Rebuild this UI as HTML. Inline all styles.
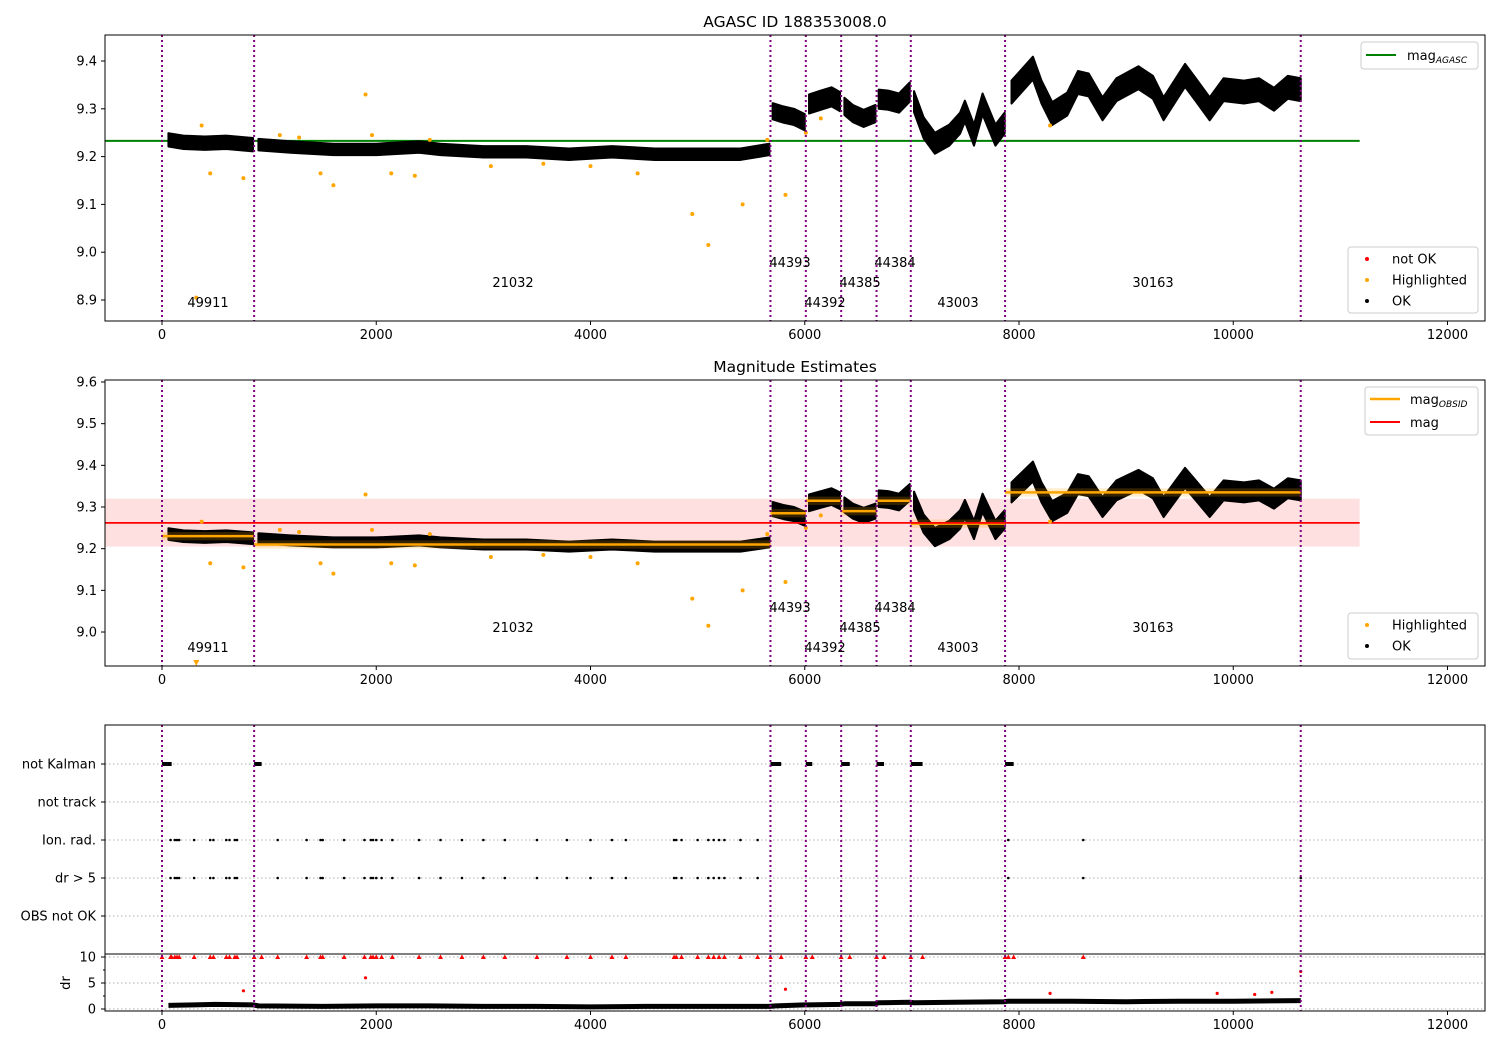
<!DOCTYPE html>
<html><head><meta charset="utf-8"><style>
body{margin:0;background:#fff}
svg{display:block;font-family:"DejaVu Sans","Liberation Sans",sans-serif}
</style></head><body>
<svg id="fig" width="1500" height="1050" viewBox="0 0 1500 1050">
<rect width="1500" height="1050" fill="#fff"/>
</svg>
<script>
// ---- data ----
const obsStarts = [0, 860, 5680, 6010, 6340, 6670, 6990, 7870, 10630];
const obsIds = ["49911","21032","44393","44392","44385","44384","43003","30163"];
const obsMeans = [9.23, 9.21, 9.285, 9.315, 9.29, 9.315, 9.26, 9.335];
const okSegX = [
 [60,200,400,600,850],
 [900,1200,1600,2000,2400,2600,3000,3400,3800,4200,4600,5000,5400,5670],
 [5700,5800,5900,6000],
 [6040,6150,6250,6330],
 [6370,6450,6550,6660],
 [6690,6780,6880,6980],
 [7020,7110,7215,7350,7450,7495,7580,7660,7780,7866],
 [7930,8130,8210,8310,8450,8550,8650,8780,8910,9115,9250,9350,9550,9650,9780,9910,10100,10240,10380,10510,10630]
];
const okSegY = [
 [9.235,9.23,9.228,9.23,9.225],
 [9.225,9.22,9.215,9.215,9.22,9.215,9.21,9.21,9.205,9.21,9.205,9.205,9.205,9.215],
 [9.295,9.288,9.283,9.272],
 [9.31,9.318,9.325,9.315],
 [9.305,9.29,9.28,9.29],
 [9.32,9.318,9.312,9.335],
 [9.315,9.26,9.228,9.245,9.27,9.295,9.245,9.31,9.245,9.27],
 [9.335,9.385,9.335,9.29,9.31,9.355,9.35,9.30,9.34,9.365,9.345,9.30,9.37,9.34,9.30,9.34,9.335,9.34,9.32,9.345,9.34]
];
const okSegSpread = [0.014, 0.012, 0.017, 0.02, 0.018, 0.02, 0.022, 0.024];
const hlX = [370,450,760,1100,1280,1480,1600,1900,1960,2140,2360,2500,3070,3560,4000,4440,4950,5100,5420,5650,5820,6010,6150,8290];
const hlY = [9.265,9.165,9.155,9.245,9.24,9.165,9.14,9.33,9.245,9.165,9.16,9.235,9.18,9.185,9.18,9.165,9.08,9.015,9.1,9.235,9.12,9.25,9.28,9.265];
const hlLowX = [320];
const hlLowY = [8.905];
const magAgasc = 9.233;
const magMean = 9.262;
const magLo = 9.205;
const magHi = 9.32;
const flagCats = ["not Kalman","not track","Ion. rad.","dr > 5","OBS not OK"];
const kalmanX0 = [0, 860, 5680, 6010, 6340, 6670, 6990, 7870];
const kalmanX1 = [90, 930, 5780, 6070, 6420, 6740, 7100, 7950];
const ionX = [80,120,140,160,300,450,480,600,630,680,700,1080,1350,1480,1500,1700,1890,1950,1970,2000,2050,2150,2400,2600,2800,3000,3200,3500,3780,4000,4200,4330,4780,4800,4850,5000,5100,5150,5200,5250,5400,5560,7900,8600];
const dr5X = ionX.concat([10630]);
const drBigX = kalmanX0.concat(kalmanX1).concat(ionX);
const drX = [60,300,500,850,900,1500,2000,2500,3000,3500,4000,4500,5000,5670,5730,6000,6040,6330,6370,6660,6690,6980,7020,7400,7860,7900,8500,9000,9500,10000,10630];
const drY = [0.7,0.8,0.9,0.8,0.6,0.5,0.6,0.6,0.5,0.5,0.4,0.5,0.5,0.5,0.6,0.8,0.8,0.9,1.0,1.0,1.2,1.3,1.2,1.3,1.4,1.5,1.5,1.4,1.5,1.5,1.6];
const drOutX = [760, 1900, 5820, 8290, 9850, 10200, 10360, 10630];
const drOutY = [3.5, 6.0, 3.8, 3.0, 3.0, 2.8, 3.2, 7.2];
const xTicks = [0,2000,4000,6000,8000,10000,12000];
const y1Ticks = [8.9,9.0,9.1,9.2,9.3,9.4];
const y2Ticks = [9.0,9.1,9.2,9.3,9.4,9.5,9.6];
const drTicks = [0,5,10];

// ---- scales ----
const L = 105, R = 1485;
const X = v => 162 + v * 0.107125;
const Y1 = v => 61 + (9.4 - v) * 478;
const Y2 = v => 382 + (9.6 - v) * 416.7;
const Yc = i => 764 + 38 * i;
const Yd = v => 1009 - v * 5.2;
const P = [{t:35,b:321,Y:Y1,yt:y1Ticks},{t:380,b:666,Y:Y2,yt:y2Ticks}];

const svg = document.getElementById('fig');
const NS = 'http://www.w3.org/2000/svg';
function mk(tag, attrs, name, parent) {
  const el = document.createElementNS(NS, tag);
  for (const k in attrs) el.setAttribute(k, attrs[k]);
  
  
  (parent || svg).appendChild(el);
  return el;
}
function txt(x, y, s, name, extra) {
  const t = mk('text', Object.assign({x:x, y:y, 'font-size':13, fill:'#000'}, extra || {}), name);
  t.textContent = s;
  return t;
}
function xAxis(bottom, name) {
  xTicks.forEach(v => {
    mk('line', {x1:X(v), x2:X(v), y1:bottom, y2:bottom+4, stroke:'#000'}, name + '-tick');
    txt(X(v), bottom+18, String(v), name + '-label', {'text-anchor':'middle'});
  });
}
function vlines(top, bottom) {
  obsStarts.forEach(v => {
    mk('line', {x1:X(v), x2:X(v), y1:top, y2:bottom, stroke:'#800080', 'stroke-width':2, 'stroke-dasharray':'2,3'}, 'obs-boundary');
  });
}
function okBand(Y, name) {
  okSegX.forEach((xs, s) => {
    const sp = okSegSpread[s];
    const up = xs.map((x, i) => X(x) + ',' + Y(okSegY[s][i] + sp));
    const lo = xs.map((x, i) => X(x) + ',' + Y(okSegY[s][i] - sp)).reverse();
    mk('polygon', {points:up.concat(lo).join(' '), fill:'#000', stroke:'#000', 'stroke-width':2, 'stroke-linejoin':'round'}, name);
  });
}
function obsLabels(off) {
  const lx = [208,513,790,825,860,895,958,1153];
  const ly = [307,287,267,307,287,267,307,287];
  obsIds.forEach((id, i) => txt(lx[i], ly[i] + off, id, 'obsid-label', {'text-anchor':'middle'}));
}

// ---- panel 1 ----
txt(795, 27, 'AGASC ID 188353008.0', 'title-agasc', {'text-anchor':'middle','font-size':15.5});
mk('line', {x1:X(-532), x2:X(11180), y1:Y1(magAgasc), y2:Y1(magAgasc), stroke:'#008000', 'stroke-width':2}, 'mag-agasc-line');
okBand(Y1, 'ok-points-band');
hlX.forEach((x, i) => mk('circle', {cx:X(x), cy:Y1(hlY[i]), r:2, fill:'orange'}, 'highlighted-point'));
hlLowX.forEach((x, i) => mk('circle', {cx:X(x), cy:Y1(hlLowY[i]), r:2, fill:'orange'}, 'highlighted-point'));
vlines(35, 321);
obsLabels(0);

// ---- panel 2 ----
txt(795, 372, 'Magnitude Estimates', 'title-mag-estimates', {'text-anchor':'middle','font-size':15.5});
mk('rect', {x:X(-532), y:Y2(magHi), width:X(11180)-X(-532), height:Y2(magLo)-Y2(magHi), fill:'#ff0000', 'fill-opacity':0.12}, 'mag-range-band');
okBand(Y2, 'ok-points-band');
obsMeans.forEach((m, i) => {
  mk('rect', {x:X(obsStarts[i]), y:Y2(m+0.01), width:X(obsStarts[i+1])-X(obsStarts[i]), height:Y2(m-0.01)-Y2(m+0.01), fill:'orange', 'fill-opacity':0.2}, 'obs-mag-band');
  mk('line', {x1:X(obsStarts[i]), x2:X(obsStarts[i+1]), y1:Y2(m), y2:Y2(m), stroke:'orange', 'stroke-width':2.5}, 'obs-mag-line');
});
mk('line', {x1:X(-532), x2:X(11180), y1:Y2(magMean), y2:Y2(magMean), stroke:'red', 'stroke-width':1.8}, 'mag-line');
hlX.forEach((x, i) => mk('circle', {cx:X(x), cy:Y2(hlY[i]), r:2, fill:'orange'}, 'highlighted-point'));
hlLowX.forEach(x => mk('path', {d:`M${X(x)-3},660 L${X(x)+3},660 L${X(x)},666 Z`, fill:'orange'}, 'highlighted-offscale-marker'));
vlines(380, 666);
obsLabels(345);

// axes frames panels 1/2
P.forEach((p, k) => {
  mk('rect', {x:L, y:p.t, width:R-L, height:p.b-p.t, fill:'none', stroke:'#000', 'stroke-width':1}, 'axes-frame');
  p.yt.forEach(v => {
    mk('line', {x1:L-4, x2:L, y1:p.Y(v), y2:p.Y(v), stroke:'#000'}, 'y-tick');
    txt(L-8, p.Y(v)+4.5, v.toFixed(1), 'y-tick-label', {'text-anchor':'end'});
  });
  xAxis(p.b, 'x-tick');
});

// ---- panel 3 ----
flagCats.forEach((c, i) => {
  mk('line', {x1:L, x2:R, y1:Yc(i), y2:Yc(i), stroke:'#b0b0b0', 'stroke-dasharray':'1.5,2.5'}, 'flag-gridline');
  mk('line', {x1:L-4, x2:L, y1:Yc(i), y2:Yc(i), stroke:'#000'}, 'y-tick');
  txt(L-9, Yc(i)+4.5, c, 'flag-label', {'text-anchor':'end'});
});
kalmanX0.forEach((x, i) => mk('rect', {x:X(x), y:Yc(0)-2, width:X(kalmanX1[i])-X(x), height:4, fill:'#000'}, 'not-kalman-mark'));
ionX.forEach(x => mk('circle', {cx:X(x), cy:Yc(2), r:1.3, fill:'#000'}, 'ion-rad-mark'));
dr5X.forEach(x => mk('circle', {cx:X(x), cy:Yc(3), r:1.3, fill:'#000'}, 'dr5-mark'));
drTicks.forEach(v => {
  mk('line', {x1:L, x2:R, y1:Yd(v), y2:Yd(v), stroke:'#b0b0b0', 'stroke-dasharray':'1.5,2.5'}, 'dr-gridline');
  mk('line', {x1:L-4, x2:L, y1:Yd(v), y2:Yd(v), stroke:'#000'}, 'y-tick');
  txt(L-9, Yd(v)+4.5, String(v), 'dr-tick-label', {'text-anchor':'end'});
});
[2.5,7.5].forEach(v => mk('line', {x1:L-2, x2:L, y1:Yd(v), y2:Yd(v), stroke:'#000'}, 'dr-minor-tick'));
txt(70, 983, 'dr', 'dr-axis-title', {'text-anchor':'middle', transform:'rotate(-90 70 983)'});
mk('polyline', {points:drX.map((x,i)=>X(x)+','+Yd(drY[i])).join(' '), fill:'none', stroke:'#000', 'stroke-width':5, 'stroke-linejoin':'round'}, 'dr-ok-band');
drBigX.forEach(x => mk('path', {d:`M${X(x)-2.5},${Yd(10)+2} L${X(x)+2.5},${Yd(10)+2} L${X(x)},${Yd(10)-2.5} Z`, fill:'red'}, 'dr-clipped-marker'));
drOutX.forEach((x, i) => mk('circle', {cx:X(x), cy:Yd(drOutY[i]), r:1.6, fill:'red'}, 'dr-outlier'));
vlines(725, 1011);
mk('rect', {x:L, y:725, width:R-L, height:286, fill:'none', stroke:'#000'}, 'axes-frame');
mk('line', {x1:L, x2:R, y1:954, y2:954, stroke:'#000'}, 'dr-separator');
xAxis(1011, 'x-tick');

// ---- legends ----
function box(x, y, w, h, name) { mk('rect', {x:x, y:y, width:w, height:h, rx:3, fill:'#fff', 'fill-opacity':0.85, stroke:'#ccc'}, name); }
box(1361, 42, 117, 27, 'legend-agasc');
mk('line', {x1:1366, x2:1396, y1:55, y2:55, stroke:'#008000', 'stroke-width':2}, 'legend-agasc-swatch');
const t1 = txt(1407, 60, 'mag', 'legend-agasc-label'); const s1 = mk('tspan', {'font-size':9, 'font-style':'italic', dy:3}, 'subscript', t1); s1.textContent = 'AGASC';
box(1348, 247, 130, 66, 'legend-status');
[['red','not OK',259],['orange','Highlighted',280],['#000','OK',301]].forEach(e => {
  mk('circle', {cx:1367, cy:e[2], r:2, fill:e[0]}, 'legend-marker');
  txt(1392, e[2]+4.5, e[1], 'legend-label');
});
box(1365, 387, 113, 48, 'legend-mag');
mk('line', {x1:1370, x2:1400, y1:399, y2:399, stroke:'orange', 'stroke-width':2.5}, 'legend-obs-swatch');
const t2 = txt(1410, 404, 'mag', 'legend-obs-label'); const s2 = mk('tspan', {'font-size':9, 'font-style':'italic', dy:3}, 'subscript', t2); s2.textContent = 'OBSID';
mk('line', {x1:1370, x2:1400, y1:422, y2:422, stroke:'red', 'stroke-width':2}, 'legend-mag-swatch');
txt(1410, 427, 'mag', 'legend-mag-label');
box(1348, 613, 130, 46, 'legend-status-2');
[['orange','Highlighted',625],['#000','OK',646]].forEach(e => {
  mk('circle', {cx:1367, cy:e[2], r:2, fill:e[0]}, 'legend-marker');
  txt(1392, e[2]+4.5, e[1], 'legend-label');
});
</script>
</body></html>
